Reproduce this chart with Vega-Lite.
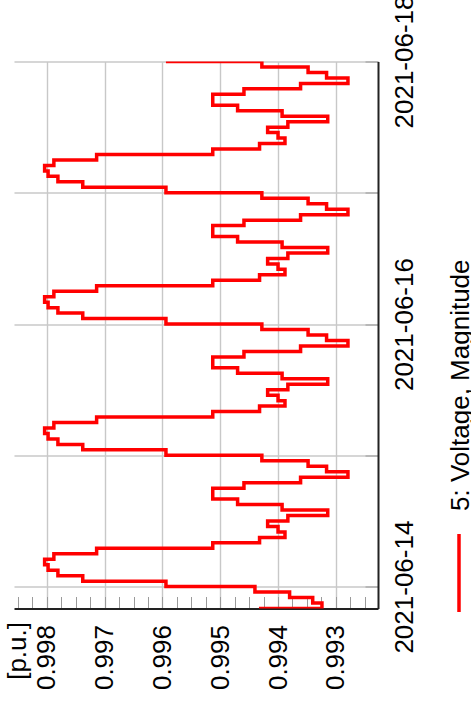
{
  "$schema": "https://vega.github.io/schema/vega-lite/v6.json",
  "width": 364,
  "height": 547,
  "autosize": "none",
  "padding": {"left": 14, "top": 61.5, "right": 93, "bottom": 98.5},
  "background": "white",
  "config": {"font": "Liberation Sans", "view": {"stroke": null}},
  "data": {"values": [
    {"t": "2021-06-13T19:00Z", "v": 0.99430},
    {"t": "2021-06-13T20:00Z", "v": 0.99324},
    {"t": "2021-06-13T21:00Z", "v": 0.99340},
    {"t": "2021-06-13T22:00Z", "v": 0.99380},
    {"t": "2021-06-13T23:00Z", "v": 0.99440},
    {"t": "2021-06-14T00:00Z", "v": 0.99594},
    {"t": "2021-06-14T01:00Z", "v": 0.99738},
    {"t": "2021-06-14T02:00Z", "v": 0.99781},
    {"t": "2021-06-14T03:00Z", "v": 0.99798},
    {"t": "2021-06-14T04:00Z", "v": 0.99804},
    {"t": "2021-06-14T05:00Z", "v": 0.99788},
    {"t": "2021-06-14T06:00Z", "v": 0.99714},
    {"t": "2021-06-14T07:00Z", "v": 0.99513},
    {"t": "2021-06-14T08:00Z", "v": 0.99432},
    {"t": "2021-06-14T09:00Z", "v": 0.99388},
    {"t": "2021-06-14T10:00Z", "v": 0.99400},
    {"t": "2021-06-14T11:00Z", "v": 0.99418},
    {"t": "2021-06-14T12:00Z", "v": 0.99383},
    {"t": "2021-06-14T13:00Z", "v": 0.99314},
    {"t": "2021-06-14T14:00Z", "v": 0.99393},
    {"t": "2021-06-14T15:00Z", "v": 0.99470},
    {"t": "2021-06-14T16:00Z", "v": 0.99513},
    {"t": "2021-06-14T17:00Z", "v": 0.99513},
    {"t": "2021-06-14T18:00Z", "v": 0.99459},
    {"t": "2021-06-14T19:00Z", "v": 0.99361},
    {"t": "2021-06-14T20:00Z", "v": 0.99279},
    {"t": "2021-06-14T21:00Z", "v": 0.99316},
    {"t": "2021-06-14T22:00Z", "v": 0.99348},
    {"t": "2021-06-14T23:00Z", "v": 0.99428},
    {"t": "2021-06-15T00:00Z", "v": 0.99594},
    {"t": "2021-06-15T01:00Z", "v": 0.99738},
    {"t": "2021-06-15T02:00Z", "v": 0.99781},
    {"t": "2021-06-15T03:00Z", "v": 0.99798},
    {"t": "2021-06-15T04:00Z", "v": 0.99804},
    {"t": "2021-06-15T05:00Z", "v": 0.99788},
    {"t": "2021-06-15T06:00Z", "v": 0.99714},
    {"t": "2021-06-15T07:00Z", "v": 0.99513},
    {"t": "2021-06-15T08:00Z", "v": 0.99432},
    {"t": "2021-06-15T09:00Z", "v": 0.99388},
    {"t": "2021-06-15T10:00Z", "v": 0.99400},
    {"t": "2021-06-15T11:00Z", "v": 0.99418},
    {"t": "2021-06-15T12:00Z", "v": 0.99383},
    {"t": "2021-06-15T13:00Z", "v": 0.99314},
    {"t": "2021-06-15T14:00Z", "v": 0.99393},
    {"t": "2021-06-15T15:00Z", "v": 0.99470},
    {"t": "2021-06-15T16:00Z", "v": 0.99513},
    {"t": "2021-06-15T17:00Z", "v": 0.99513},
    {"t": "2021-06-15T18:00Z", "v": 0.99459},
    {"t": "2021-06-15T19:00Z", "v": 0.99361},
    {"t": "2021-06-15T20:00Z", "v": 0.99279},
    {"t": "2021-06-15T21:00Z", "v": 0.99316},
    {"t": "2021-06-15T22:00Z", "v": 0.99348},
    {"t": "2021-06-15T23:00Z", "v": 0.99428},
    {"t": "2021-06-16T00:00Z", "v": 0.99594},
    {"t": "2021-06-16T01:00Z", "v": 0.99738},
    {"t": "2021-06-16T02:00Z", "v": 0.99781},
    {"t": "2021-06-16T03:00Z", "v": 0.99798},
    {"t": "2021-06-16T04:00Z", "v": 0.99804},
    {"t": "2021-06-16T05:00Z", "v": 0.99788},
    {"t": "2021-06-16T06:00Z", "v": 0.99714},
    {"t": "2021-06-16T07:00Z", "v": 0.99513},
    {"t": "2021-06-16T08:00Z", "v": 0.99432},
    {"t": "2021-06-16T09:00Z", "v": 0.99388},
    {"t": "2021-06-16T10:00Z", "v": 0.99400},
    {"t": "2021-06-16T11:00Z", "v": 0.99418},
    {"t": "2021-06-16T12:00Z", "v": 0.99383},
    {"t": "2021-06-16T13:00Z", "v": 0.99314},
    {"t": "2021-06-16T14:00Z", "v": 0.99393},
    {"t": "2021-06-16T15:00Z", "v": 0.99470},
    {"t": "2021-06-16T16:00Z", "v": 0.99513},
    {"t": "2021-06-16T17:00Z", "v": 0.99513},
    {"t": "2021-06-16T18:00Z", "v": 0.99459},
    {"t": "2021-06-16T19:00Z", "v": 0.99361},
    {"t": "2021-06-16T20:00Z", "v": 0.99279},
    {"t": "2021-06-16T21:00Z", "v": 0.99316},
    {"t": "2021-06-16T22:00Z", "v": 0.99348},
    {"t": "2021-06-16T23:00Z", "v": 0.99428},
    {"t": "2021-06-17T00:00Z", "v": 0.99594},
    {"t": "2021-06-17T01:00Z", "v": 0.99738},
    {"t": "2021-06-17T02:00Z", "v": 0.99781},
    {"t": "2021-06-17T03:00Z", "v": 0.99798},
    {"t": "2021-06-17T04:00Z", "v": 0.99804},
    {"t": "2021-06-17T05:00Z", "v": 0.99788},
    {"t": "2021-06-17T06:00Z", "v": 0.99714},
    {"t": "2021-06-17T07:00Z", "v": 0.99513},
    {"t": "2021-06-17T08:00Z", "v": 0.99432},
    {"t": "2021-06-17T09:00Z", "v": 0.99388},
    {"t": "2021-06-17T10:00Z", "v": 0.99400},
    {"t": "2021-06-17T11:00Z", "v": 0.99418},
    {"t": "2021-06-17T12:00Z", "v": 0.99383},
    {"t": "2021-06-17T13:00Z", "v": 0.99314},
    {"t": "2021-06-17T14:00Z", "v": 0.99393},
    {"t": "2021-06-17T15:00Z", "v": 0.99470},
    {"t": "2021-06-17T16:00Z", "v": 0.99513},
    {"t": "2021-06-17T17:00Z", "v": 0.99513},
    {"t": "2021-06-17T18:00Z", "v": 0.99459},
    {"t": "2021-06-17T19:00Z", "v": 0.99361},
    {"t": "2021-06-17T20:00Z", "v": 0.99279},
    {"t": "2021-06-17T21:00Z", "v": 0.99316},
    {"t": "2021-06-17T22:00Z", "v": 0.99348},
    {"t": "2021-06-17T23:00Z", "v": 0.99428},
    {"t": "2021-06-18T00:00Z", "v": 0.99594}
  ]},
  "mark": {"type": "line", "interpolate": "step-before", "strokeWidth": 3.5, "clip": true},
  "encoding": {
    "x": {
      "field": "v", "type": "quantitative",
      "scale": {"domain": [0.99227, 0.99857], "reverse": true, "zero": false, "nice": false},
      "axis": {
        "orient": "bottom",
        "values": [0.9925, 0.99275, 0.993, 0.99325, 0.9935, 0.99375, 0.994, 0.99425, 0.9945, 0.99475, 0.995, 0.99525, 0.9955, 0.99575, 0.996, 0.99625, 0.9965, 0.99675, 0.997, 0.99725, 0.9975, 0.99775, 0.998, 0.99825, 0.9985],
        "labelExpr": "abs(datum.value*1000 - round(datum.value*1000)) < 0.01 ? format(datum.value, '.3f') : ''",
        "labelAngle": -90, "labelAlign": "right", "labelBaseline": "middle",
        "labelFontSize": 26, "labelColor": "black", "labelPadding": 28,
        "labelOverlap": false, "labelFlush": false,
        "tickSize": -12, "tickColor": "#9a9a9a", "tickWidth": 1,
        "grid": true, "gridColor": "#c8c8c8", "gridWidth": 1.4,
        "gridOpacity": {"condition": {"test": "abs(datum.value*1000 - round(datum.value*1000)) < 0.01", "value": 1}, "value": 0},
        "domainColor": "#222", "domainWidth": 2,
        "title": "[p.u.]", "titleFontSize": 26, "titleFontWeight": "normal", "titleColor": "black",
        "titleAngle": -90, "titleAlign": "right", "titleBaseline": "middle", "titleX": 3, "titleY": 13
      }
    },
    "y": {
      "field": "t", "type": "temporal",
      "scale": {"type": "utc", "domain": [
        {"year": 2021, "month": 6, "date": 13, "hours": 20, "utc": true},
        {"year": 2021, "month": 6, "date": 18, "utc": true}
      ]},
      "axis": {
        "orient": "right",
        "values": [
          {"year": 2021, "month": 6, "date": 14, "utc": true},
          {"year": 2021, "month": 6, "date": 15, "utc": true},
          {"year": 2021, "month": 6, "date": 16, "utc": true},
          {"year": 2021, "month": 6, "date": 17, "utc": true},
          {"year": 2021, "month": 6, "date": 18, "utc": true}
        ],
        "labelExpr": "utcdate(datum.value) % 2 == 0 ? utcFormat(datum.value, '%Y-%m-%d') : ''",
        "labelAngle": -90, "labelAlign": "center", "labelBaseline": "top",
        "labelFontSize": 26, "labelColor": "black", "labelPadding": 26,
        "labelOverlap": false, "labelFlush": false,
        "tickSize": -13, "tickColor": "#9a9a9a", "tickWidth": 1,
        "grid": true, "gridColor": "#c8c8c8", "gridWidth": 1.4,
        "domainColor": "#222", "domainWidth": 2,
        "title": null
      }
    },
    "order": {"field": "t", "type": "temporal"},
    "color": {
      "datum": "5: Voltage, Magnitude",
      "scale": {"range": ["#ff0000"]},
      "legend": {
        "orient": "none", "legendX": 404, "legendY": 470.5,
        "title": null,
        "symbolType": "M0,-1L0,1",
        "symbolSize": 6084,
        "symbolStrokeWidth": 3.5,
        "symbolStrokeColor": "#ff0000",
        "labelFontSize": 26, "labelLimit": 500, "labelColor": "black",
        "encoding": {"labels": {"angle": {"value": -90}, "dx": {"value": 62}, "dy": {"value": -43}, "align": {"value": "left"}, "baseline": {"value": "middle"}}}
      }
    }
  }
}
